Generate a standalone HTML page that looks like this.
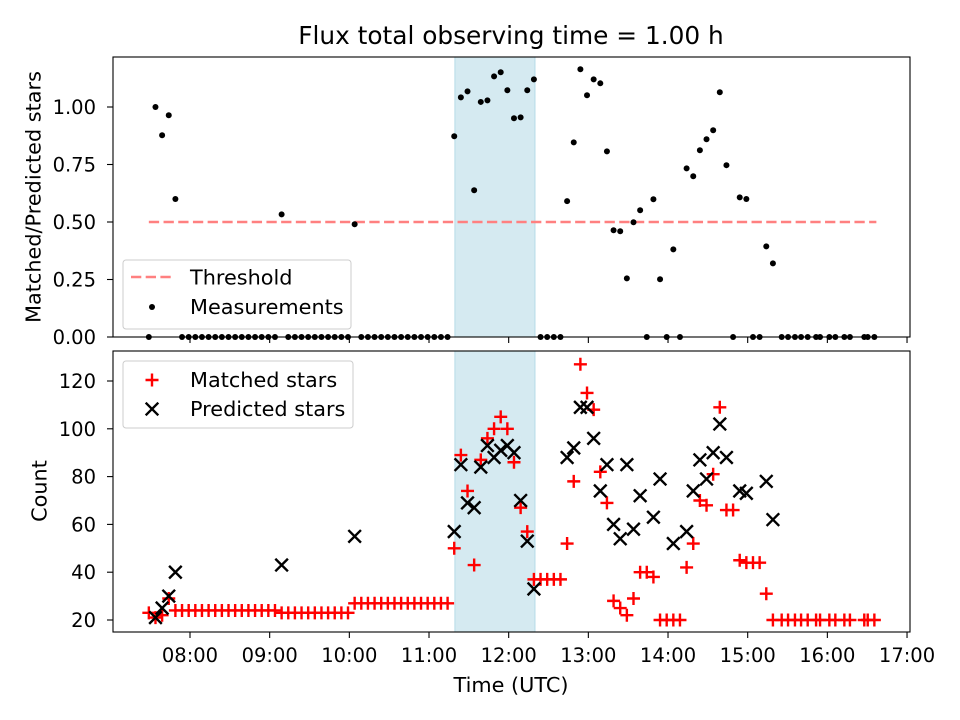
<!DOCTYPE html>
<html><head><meta charset="utf-8"><style>
html,body{margin:0;padding:0;background:#fff}
svg{display:block}
text{font-family:"DejaVu Sans","Liberation Sans",sans-serif;fill:#000}
</style></head><body>
<svg id="chart" width="960" height="720" viewBox="0 0 960 720" xmlns="http://www.w3.org/2000/svg">
<text x="511" y="44" font-size="24.8" text-anchor="middle">Flux total observing time = 1.00 h</text>
<g id="topPanel"></g>
<g id="botPanel"></g>
<text x="511" y="692" font-size="20.8" text-anchor="middle">Time (UTC)</text>
<text transform="translate(40.5,197) rotate(-90)" font-size="20.8" text-anchor="middle">Matched/Predicted stars</text>
<text transform="translate(46.5,491) rotate(-90)" font-size="20.8" text-anchor="middle">Count</text>
</svg>
<script>
// sample times in minutes since midnight (UTC)
const times = [449,454,459,464,469,474,479,484,489,494,499,504,509,514,519,524,529,534,539,544,
549,554,559,564,569,574,579,584,589,594,599,604,609,614,619,624,629,634,639,644,
649,654,659,664,669,674,679,684,689,694,699,704,709,714,719,724,729,734,739,744,
749,754,759,764,769,774,779,784,789,794,799,804,809,814,819,824,829,834,839,844,
849,854,859,864,869,874,879,884,889,894,899,904,909,914,919,
925.6,930.4,935.6,940.2,945.2,951.5,954.5,961.5,966,972.8,977,987.8,990.4,995.4];
const matched = [23,21,22,29,24,24,24,24,24,24,24,24,24,24,24,24,24,24,24,24,
23,23,23,23,23,23,23,23,23,23,23,27,27,27,27,27,27,27,27,27,
27,27,27,27,27,27,50,89,74,43,87,96,100,105,100,86,67,57,37,37,
37,37,37,52,78,127,115,108,82,69,28,25,22,29,40,40,38,20,20,20,
20,42,52,70,68,81,109,66,66,45,44,44,44,31,20,
20,20,20,20,20,20,20,20,20,20,20,20,20,20];
const predicted = [null,21,25,30,40,null,null,null,null,null,null,null,null,null,null,null,null,null,null,null,
43,null,null,null,null,null,null,null,null,null,null,55,null,null,null,null,null,null,null,null,
null,null,null,null,null,null,57,85,69,67,84,93,88,91,93,90,70,53,33,null,
null,null,null,88,92,109,109,96,74,85,60,54,85,58,72,null,63,79,null,52,
null,57,74,87,79,90,102,88,null,74,73,null,null,78,62,
null,null,null,null,null,null,null,null,null,null,null,null,null,null];
const ratio = [0,1.00,0.877,0.964,0.60,0,0,0,0,0,0,0,0,0,0,0,0,0,0,0,
0.533,0,0,0,0,0,0,0,0,0,0,0.49,0,0,0,0,0,0,0,0,
0,0,0,0,0,0,0.873,1.042,1.068,0.638,1.022,1.029,1.133,1.151,1.073,0.951,0.955,1.073,1.12,0,
0,0,0,0.591,0.846,1.164,1.051,1.12,1.103,0.807,0.464,0.46,0.255,0.499,0.551,0,0.599,0.251,0,0.381,
0,0.733,0.699,0.812,0.86,0.899,1.064,0.747,0,0.607,0.60,0,0,0.394,0.32,
0,0,0,0,0,0,0,0,0,0,0,0,0,0];
const threshold = 0.5;
const shadeStart = 679.5, shadeEnd = 739.8;
const xTickMin = [480,540,600,660,720,780,840,900,960,1020];
const xTickLabels = ["08:00","09:00","10:00","11:00","12:00","13:00","14:00","15:00","16:00","17:00"];
const topTicks = [0,0.25,0.5,0.75,1.0];
const topTickLabels = ["0.00","0.25","0.50","0.75","1.00"];
const botTicks = [20,40,60,80,100,120];

const NS="http://www.w3.org/2000/svg";
const L=113,R=910;
const X=m=>190+(m-480)*79.67/60;
const TT=57,TB=337, Yt=v=>337-v*230;
const BT=351,BB=632, Yb=v=>620-(v-20)*2.39;
const FS=19.5, LFS=20.8;
function mk(p,tag,at){const e=document.createElementNS(NS,tag);for(const k in at)e.setAttribute(k,at[k]);p.appendChild(e);return e;}
const topG=document.getElementById('topPanel'), botG=document.getElementById('botPanel');

function panel(g,T,B,name){
  let bg=mk(g,'rect',{x:L,y:T,width:R-L,height:B-T,fill:'#fff'});
  
  
  let sh=mk(g,'rect',{x:X(shadeStart),y:T,width:X(shadeEnd)-X(shadeStart),height:B-T,fill:'#d5eaf1',stroke:'#b6dbe7','stroke-width':1});
  
  
}
panel(topG,TT,TB,'top');
panel(botG,BT,BB,'bottom');

let th=mk(topG,'line',{x1:X(times[0]),x2:X(times[times.length-1])+2,y1:Yt(threshold),y2:Yt(threshold),stroke:'#ff8080','stroke-width':2.6,'stroke-dasharray':'10.3,4.4'});



ratio.forEach((v,i)=>{
  let c=mk(topG,'circle',{cx:X(times[i]),cy:Yt(v),r:3,fill:'#000'});
  
  
});

matched.forEach((v,i)=>{
  const x=X(times[i]),y=Yb(v);
  let p=mk(botG,'path',{d:`M${x-6.5},${y}H${x+6.5}M${x},${y-6.5}V${y+6.5}`,stroke:'#ff0000','stroke-width':2.4});
  
  
});
predicted.forEach((v,i)=>{
  if(v===null)return;
  const x=X(times[i]),y=Yb(v);
  let p=mk(botG,'path',{d:`M${x-6.3},${y-6.3}L${x+6.3},${y+6.3}M${x-6.3},${y+6.3}L${x+6.3},${y-6.3}`,stroke:'#000','stroke-width':2.4});
  
  
});

function frame(g,T,B,name){
  let f=mk(g,'rect',{x:L,y:T,width:R-L,height:B-T,fill:'none',stroke:'#000','stroke-width':1.1});
  
  
  xTickMin.forEach((m,i)=>{
    let t=mk(g,'line',{x1:X(m),x2:X(m),y1:B,y2:B+6,stroke:'#000','stroke-width':1.1});
    
    
    if(name==='bottom'){
      let tx=mk(g,'text',{x:X(m),y:B+30,'font-size':FS,'text-anchor':'middle'});
      tx.textContent=xTickLabels[i];
      
      
    }
  });
}
frame(topG,TT,TB,'top');
frame(botG,BT,BB,'bottom');
topTicks.forEach((v,i)=>{
  let t=mk(topG,'line',{x1:L-6,x2:L,y1:Yt(v),y2:Yt(v),stroke:'#000','stroke-width':1.1});
  
  
  let tx=mk(topG,'text',{x:L-17,y:Yt(v)+7,'font-size':FS,'text-anchor':'end'});
  tx.textContent=topTickLabels[i];
  
  
});
botTicks.forEach(v=>{
  let t=mk(botG,'line',{x1:L-6,x2:L,y1:Yb(v),y2:Yb(v),stroke:'#000','stroke-width':1.1});
  
  
  let tx=mk(botG,'text',{x:L-17,y:Yb(v)+7,'font-size':FS,'text-anchor':'end'});
  tx.textContent=String(v);
  
  
});

let lg1=mk(topG,'g',{});


mk(lg1,'rect',{x:123,y:260,width:228,height:69,rx:3,fill:'#fff','fill-opacity':0.8,stroke:'#ccc'});
let le1=mk(lg1,'line',{x1:131,x2:172,y1:277,y2:277,stroke:'#ff8080','stroke-width':2.6,'stroke-dasharray':'10.3,4.4'});


let t1=mk(lg1,'text',{x:190,y:284.5,'font-size':LFS});t1.textContent='Threshold';


let le2=mk(lg1,'circle',{cx:152,cy:307,r:3,fill:'#000'});


let t2=mk(lg1,'text',{x:190,y:314,'font-size':LFS});t2.textContent='Measurements';



let lg2=mk(botG,'g',{});


mk(lg2,'rect',{x:123,y:361,width:230,height:67,rx:3,fill:'#fff','fill-opacity':0.8,stroke:'#ccc'});
let s3=mk(lg2,'path',{d:'M145.5,380H158.5M152,373.5V386.5',stroke:'#ff0000','stroke-width':2.4});


let t3=mk(lg2,'text',{x:190,y:387,'font-size':LFS});t3.textContent='Matched stars';


let s4=mk(lg2,'path',{d:'M145.7,402.7L158.3,415.3M145.7,415.3L158.3,402.7',stroke:'#000','stroke-width':2.4});


let t4=mk(lg2,'text',{x:190,y:416,'font-size':LFS});t4.textContent='Predicted stars';


</script>
</body></html>
